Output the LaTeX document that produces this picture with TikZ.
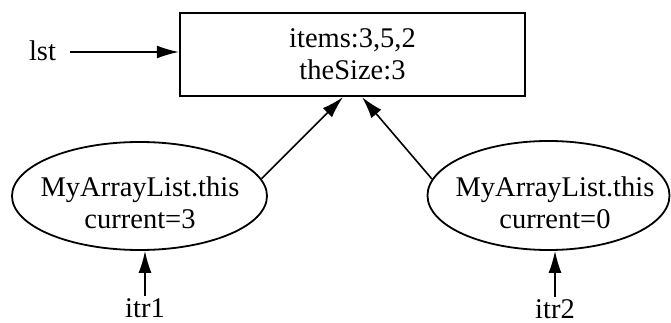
\documentclass[tikz,border=0pt]{standalone}
\usepackage{fontspec}
\setmainfont{Liberation Serif}
\usetikzlibrary{arrows.meta,shapes.geometric}
\begin{document}
\begin{tikzpicture}[x=1pt,y=-1pt,
  every node/.style={font=\fontsize{28.5}{32}\selectfont, inner sep=2pt},
  objbox/.style={draw, line width=2.2pt, minimum width=345pt, minimum height=83pt, align=center, inner sep=0pt},
  objell/.style={draw, ellipse, line width=1.8pt, inner sep=0pt},
  lbl/.style={align=center},
  arr/.style={-{Latex[length=22pt,width=13pt]}, line width=1.6pt}]
\useasboundingbox (0,0) rectangle (671,323);
\node[objbox] (box) at (352.5,54.5) {\fontsize{28.5}{26}\selectfont items:3,5,2\\theSize:3};
\node[anchor=base] (lst) at (42.5,61) {lst};
\node[objell, minimum width=255pt, minimum height=108pt] (e1) at (139.5,196) {};
\node[lbl] (t1) at (140,202.5) {MyArrayList.this\\current=3};
\node[objell, minimum width=242pt, minimum height=109pt] (e2) at (548.5,195.5) {};
\node[lbl] (t2) at (555,202.5) {MyArrayList.this\\current=0};
\node[anchor=base] (i1) at (145,317) {itr1};
\node[anchor=base] (i2) at (555,318) {itr2};
\coordinate (b1) at ([xshift=-9.5pt]box.south);
\coordinate (b2) at ([xshift=9.5pt]box.south);
\draw[arr] ([xshift=12pt]lst.east |- box.west) ++(0,-2.5) coordinate (l0) -- (l0 -| box.west);
\draw[arr] (e1.8) -- (b1);
\draw[arr] (e2.172) -- (b2);
\draw[arr] (i1.north) -- (i1.north |- e1.south);
\draw[arr] (i2.north) -- (i2.north |- e2.south);
\end{tikzpicture}
\end{document}
